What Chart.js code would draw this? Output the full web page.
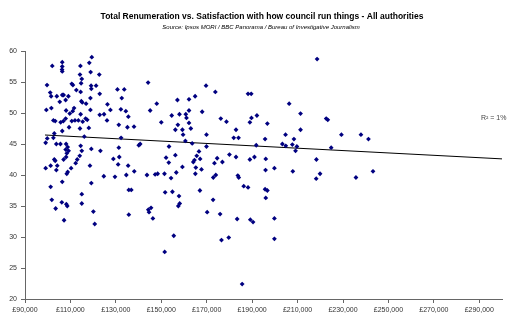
<!DOCTYPE html>
<html>
<head>
<meta charset="utf-8">
<script src="https://cdn.jsdelivr.net/npm/chart.js@4"></script>
<style>
  html, body { margin: 0; padding: 0; background: #fff; }
  #wrap { width: 525px; height: 324px; }
</style>
</head>
<body>
<div id="wrap"><canvas id="chart" width="525" height="324"></canvas></div>
<script>
// Total remuneration per authority, in £ thousands
const salaryK = [
  119.4,118.3,106.4,102.0,106.4,106.3,106.4,114.4,114.2,118.9,
  122.7,115.0,99.7,110.6,111.1,114.7,119.1,121.3,119.2,112.6,
  114.5,122.9,130.7,133.7,144.2,101.1,101.5,104.0,106.4,107.0,
  109.1,107.9,105.3,114.8,115.2,116.9,118.8,132.6,148.0,126.3,
  99.4,101.6,108.1,111.6,111.0,109.7,114.5,118.8,122.9,124.8,
  127.6,132.2,134.4,145.1,107.9,106.9,105.7,102.5,103.3,110.6,
  112.0,113.5,115.4,116.7,117.4,126.1,135.5,106.4,109.4,114.2,
  118.1,131.3,135.1,138.0,99.8,102.5,102.9,103.8,105.6,108.1,
  107.9,108.8,109.2,108.4,99.1,116.1,114.5,115.0,114.1,113.0,
  112.3,119.2,123.2,131.3,132.3,140.7,140.1,102.9,103.3,104.2,
  103.8,101.3,99.1,107.0,108.1,108.8,108.4,110.3,118.6,128.9,
  131.5,131.0,135.4,138.1,143.7,147.3,148.4,124.7,129.6,134.6,
  101.3,106.4,119.2,115.0,101.8,106.2,108.2,108.6,115.0,103.5,
  120.1,107.2,120.7,135.7,136.8,145.5,144.3,144.6,135.7,146.3,
  169.7,173.8,188.2,189.6,157.1,162.2,164.9,154.6,158.0,160.8,
  161.1,162.2,168.0,176.2,178.7,189.7,192.1,189.0,196.7,150.0,
  157.3,162.2,156.2,159.3,163.0,159.6,169.9,182.9,181.9,184.0,
  195.7,160.6,163.6,153.4,169.9,166.6,191.8,152.1,156.2,165.6,
  167.1,164.6,164.1,153.3,174.6,176.9,173.4,180.0,182.9,189.0,
  191.0,196.0,159.3,165.2,167.7,195.9,199.8,151.4,156.6,154.3,
  165.0,174.0,172.9,183.7,184.1,
  186.3,188.2,195.7,196.7,196.0,151.7,154.9,157.8,167.0,158.1,
  157.5,172.8,170.2,175.9,183.4,189.2,190.4,199.8,155.5,176.5,
  179.7,199.8,151.5,185.6,
  218.6,206.3,211.3,222.6,223.3,211.3,204.7,208.4,229.3,237.9,
  241.2,203.3,204.8,207.7,209.7,209.1,224.8,218.3,207.9,219.9,
  243.2,218.2,235.7
];

// Satisfaction with how the council runs things, %
const satisfaction = [
  59.0,58.1,58.2,57.6,57.5,57.0,56.7,57.6,56.2,56.6,
  56.2,55.5,54.5,54.7,54.5,54.8,54.4,54.4,53.9,53.7,
  53.4,53.1,53.8,53.8,54.9,53.3,52.7,52.7,52.9,52.9,
  52.7,52.1,51.8,51.9,51.7,51.5,52.4,52.4,51.5,51.4,
  50.5,50.8,50.4,50.8,50.3,49.9,49.8,50.5,49.7,49.8,
  50.5,50.6,50.3,50.4,49.1,48.7,48.5,48.8,48.7,48.7,
  48.8,48.8,48.6,49.1,48.9,48.8,49.4,47.1,47.7,47.5,
  47.6,48.1,47.7,47.8,45.9,46.0,46.7,45.0,45.0,45.0,
  44.1,44.5,43.9,43.5,45.2,46.2,44.7,43.9,43.1,42.5,
  41.9,44.2,43.9,44.4,46.0,45.0,44.8,42.5,42.3,41.5,
  40.8,41.5,41.1,42.5,42.9,40.5,40.2,41.1,41.5,42.6,
  42.9,41.7,41.5,40.6,40.0,40.1,40.2,39.8,39.7,40.0,
  38.1,38.9,38.7,36.9,36.0,35.6,35.3,35.0,35.4,34.6,
  34.1,32.7,32.1,37.6,37.6,34.7,34.4,34.0,33.6,33.0,
  54.4,53.4,53.1,53.1,52.1,52.2,52.7,49.6,49.8,49.8,
  49.2,50.4,50.2,49.1,48.6,49.2,49.6,48.5,48.3,48.5,
  48.1,48.4,47.3,47.3,47.5,46.5,46.5,47.3,46.0,46.0,
  45.8,45.5,45.1,44.6,44.6,43.8,44.8,42.8,43.2,43.1,
  42.6,42.4,42.1,42.0,42.7,42.1,41.9,43.3,42.9,42.5,
  42.9,42.6,41.3,41.2,40.9,40.8,41.1,40.2,40.4,39.5,
  40.2,40.0,39.6,39.9,39.6,
  38.2,38.0,37.7,37.5,36.3,37.2,37.3,36.6,37.5,35.4,
  35.0,36.0,34.0,33.7,32.9,32.8,32.4,33.0,30.2,29.5,
  29.9,29.7,27.6,22.4,
  58.7,51.5,49.9,49.1,48.9,47.3,46.5,45.8,46.5,46.5,
  45.8,45.0,44.7,44.9,44.6,43.9,44.4,42.5,40.6,40.2,
  40.6,39.4,39.6
];

// Linear trend, extended forward to the end of the axis
const trendX = [98.8, 300];
const trendY = [46.45, 42.6];
const rSquared = '1%';

const xTicks = [90, 110, 130, 150, 170, 190, 210, 230, 250, 270, 290];
const yTicks = [20, 25, 30, 35, 40, 45, 50, 55, 60];

const points = salaryK.map((x, i) => ({ x: x, y: satisfaction[i] }));
const trend = trendX.map((x, i) => ({ x: x, y: trendY[i] }));

const tickFont = { family: 'Liberation Sans, Arial, sans-serif', size: 7 };
const axisColor = '#666';

// Titles and the R² note are painted straight onto the canvas
const textPlugin = {
  id: 'chartText',
  afterDraw(chart) {
    const c = chart.ctx;
    c.save();
    c.fillStyle = '#000';
    c.textAlign = 'center';
    c.textBaseline = 'middle';
    c.font = 'bold 8.5px "Liberation Sans", Arial, sans-serif';
    c.fillText('Total Renumeration vs. Satisfaction with how council run things - All authorities', 262, 17);
    c.font = 'italic 6px "Liberation Sans", Arial, sans-serif';
    c.fillText('Source: Ipsos MORI / BBC Panorama / Bureau of Investigative Journalism', 261, 27);
    c.textAlign = 'left';
    c.fillStyle = '#444';
    c.font = '7px "Liberation Sans", Arial, sans-serif';
    c.fillText('R\u00B2 = ' + rSquared, 481, 118);
    c.restore();
  }
};

new Chart(document.getElementById('chart'), {
  type: 'scatter',
  data: {
    datasets: [
      {
        data: points,
        pointStyle: 'rectRot',
        pointRadius: 2.4,
        backgroundColor: '#000080',
        borderWidth: 0
      },
      {
        type: 'line',
        data: trend,
        borderColor: '#000',
        borderWidth: 1,
        pointRadius: 0,
        fill: false
      }
    ]
  },
  options: {
    responsive: false,
    animation: false,
    layout: { padding: { top: 51, right: 23, left: 0, bottom: 0 } },
    plugins: { legend: { display: false }, tooltip: { enabled: false } },
    scales: {
      x: {
        type: 'linear',
        min: 90,
        max: 300,
        afterBuildTicks: s => { s.ticks = xTicks.map(v => ({ value: v })); },
        afterFit: s => { s.height = 25; },
        grid: { drawOnChartArea: false, tickLength: 4, color: axisColor },
        border: { color: axisColor },
        ticks: {
          font: tickFont, color: '#333', padding: 3,
          maxRotation: 0, autoSkip: false,
          callback: v => '\u00A3' + v + ',000'
        }
      },
      y: {
        min: 20,
        max: 60,
        afterBuildTicks: s => { s.ticks = yTicks.map(v => ({ value: v })); },
        afterFit: s => { s.width = 25; },
        grid: { drawOnChartArea: false, tickLength: 4, color: axisColor },
        border: { color: axisColor },
        ticks: { font: tickFont, color: '#333', padding: 4 }
      }
    }
  },
  plugins: [textPlugin]
});
</script>
</body>
</html>
